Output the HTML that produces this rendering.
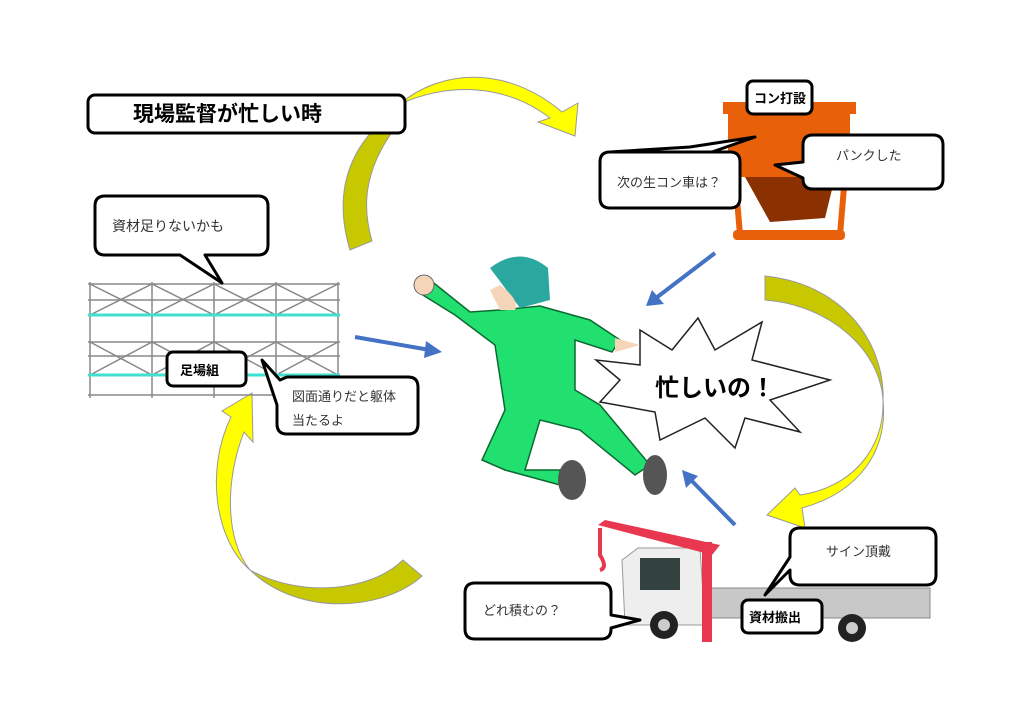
<!DOCTYPE html>
<html><head><meta charset="utf-8"><style>
html,body{margin:0;padding:0;background:#fff}
svg{display:block}
text{font-family:"Liberation Sans","Noto Sans CJK JP",sans-serif}
</style></head><body>
<svg width="1024" height="724" viewBox="0 0 1024 724" xmlns="http://www.w3.org/2000/svg">
<!-- yellow curved arrows -->
<g stroke="#999" stroke-width="1">
<path d="M350,250 C335,200 345,160 375,128 L395,128 C368,165 360,200 372,241 Z" fill="#c8c800"/>
<path d="M400,104 C440,70 505,64 562,112 L578,103 L575,136 L538,122 L550,118 C505,84 450,82 400,104 Z" fill="#ffff00"/>
<path d="M765,276 C850,285 885,350 883,400 C880,350 830,305 765,300 Z" fill="#c8c800"/>
<path d="M883,400 C885,450 850,488 800,495 L795,488 L767,515 L805,528 L802,508 C860,492 888,450 883,400 Z" fill="#ffff00"/>
<path d="M252,393 L222,411 L231,417 C205,470 215,540 250,570 C225,540 225,480 244,432 L253,442 Z" fill="#ffff00"/>
<path d="M250,570 C300,618 385,610 422,576 L403,560 C370,592 300,598 250,570 Z" fill="#c8c800"/>
</g>
<!-- blue arrows -->
<g stroke="#4472c4" stroke-width="4" fill="#4472c4">
<line x1="355" y1="337" x2="430" y2="350"/><polygon points="442,352 426,341 424,358" stroke="none"/>
<line x1="715" y1="253" x2="656" y2="298"/><polygon points="646,306 652,290 664,304" stroke="none"/>
<line x1="735" y1="525" x2="690" y2="479"/><polygon points="682,470 698,476 686,488" stroke="none"/>
</g>
<!-- scaffold -->
<g stroke="#888" stroke-width="1.5" fill="none">
<line x1="88" y1="284" x2="340" y2="284"/><line x1="88" y1="300" x2="340" y2="300"/>
<line x1="88" y1="342" x2="340" y2="342"/><line x1="88" y1="356" x2="340" y2="356"/>
<line x1="88" y1="395" x2="340" y2="395"/>
<line x1="90" y1="282" x2="90" y2="398"/><line x1="152" y1="282" x2="152" y2="398"/><line x1="214" y1="282" x2="214" y2="398"/><line x1="276" y1="282" x2="276" y2="398"/><line x1="338" y1="282" x2="338" y2="398"/>
<path d="M90,284 L152,315 L214,284 L276,315 L338,284 M90,315 L152,284 L214,315 L276,284 L338,315 M90,342 L152,375 L214,342 L276,375 L338,342 M90,375 L152,342 L214,375 L276,342 L338,375"/>
</g>
<line x1="88" y1="315" x2="340" y2="315" stroke="#40e0d0" stroke-width="3"/>
<line x1="88" y1="375" x2="340" y2="375" stroke="#40e0d0" stroke-width="3"/>
<!-- bucket -->
<g>
<rect x="723" y="102" width="133" height="12" fill="#e8600a"/>
<rect x="728" y="112" width="122" height="65" fill="#e8600a"/>
<polygon points="745,177 835,177 825,218 770,222" fill="#8b3000"/>
<path d="M735,175 L740,235 L840,235 L845,175" fill="none" stroke="#e8600a" stroke-width="6"/>
<rect x="733" y="230" width="112" height="10" rx="4" fill="#e8600a"/>
</g>
<!-- truck -->
<g>
<rect x="690" y="588" width="240" height="30" fill="#c8c8c8" stroke="#888"/>
<path d="M622,560 L638,548 L700,548 L705,625 L625,625 Z" fill="#eee" stroke="#999"/>
<rect x="640" y="558" width="40" height="32" fill="#33413f"/>
<circle cx="664" cy="625" r="14" fill="#222"/><circle cx="664" cy="625" r="6" fill="#ccc"/>
<circle cx="852" cy="628" r="14" fill="#222"/><circle cx="852" cy="628" r="6" fill="#ccc"/>
<polygon points="598,525 605,520 720,545 712,555" fill="#e8384f"/>
<rect x="702" y="542" width="10" height="100" fill="#e8384f"/>
<path d="M600,528 L600,555 Q608,568 600,570" stroke="#e8384f" stroke-width="4" fill="none"/>
</g>
<!-- starburst -->
<polygon points="640,330 672,350 698,318 715,350 762,322 752,360 830,380 770,400 800,432 745,418 735,448 705,418 660,440 655,412 600,402 620,380 596,360 640,365" fill="#fff" stroke="#222" stroke-width="1.5"/>
<text x="715" y="396" font-size="24" font-weight="bold" text-anchor="middle" fill="#000">忙しいの！</text>
<!-- person -->
<g fill="#22e070" stroke="#0a6a30" stroke-width="1.5">
<path d="M430,280 L470,312 L500,310 L540,306 L590,320 L620,340 L612,352 L575,340 L575,390 L600,405 L650,465 L635,475 L580,430 L540,420 L525,470 L560,470 L560,485 L505,470 L482,460 L505,410 L495,345 L455,315 L418,292 Z"/>
</g>
<path d="M490,268 Q520,245 548,268 L550,300 L520,308 Z" fill="#2aa8a0"/>
<path d="M500,285 Q520,300 515,310 L500,310 L490,290 Z" fill="#f5d5b8"/>
<circle cx="424" cy="285" r="10" fill="#f5d5b8" stroke="#666"/>
<polygon points="615,338 640,345 615,352" fill="#f5d5b8"/>
<ellipse cx="572" cy="480" rx="14" ry="20" fill="#555"/>
<ellipse cx="655" cy="475" rx="12" ry="20" fill="#555"/>
<!-- callouts -->
<g fill="#fff" stroke="#000" stroke-width="3" stroke-linejoin="round">
<rect x="88" y="95" width="317" height="38" rx="7"/>
<path d="M105,196 H258 Q268,196 268,206 V245 Q268,255 258,255 H205 L222,283 L180,255 H105 Q95,255 95,245 V206 Q95,196 105,196 Z"/>
<rect x="167" y="352" width="79" height="34" rx="6"/>
<path d="M287,377 H408 Q418,377 418,387 V424 Q418,434 408,434 H287 Q277,434 277,424 V405 L262,360 L280,380 Z"/>
<rect x="747" y="81" width="65" height="33" rx="6"/>
<path d="M610,152 H730 Q740,152 740,162 V198 Q740,208 730,208 H610 Q600,208 600,198 V162 Q600,152 610,152 L690,147 L755,137 L712,152 Z"/>
<path d="M813,135 H933 Q943,135 943,145 V179 Q943,189 933,189 H813 Q803,189 803,179 V178 L775,165 L803,162 V145 Q803,135 813,135 Z"/>
<path d="M800,528 H926 Q936,528 936,538 V575 Q936,585 926,585 H800 Q790,585 790,575 V570 L765,595 L790,557 V538 Q790,528 800,528 Z"/>
<rect x="742" y="600" width="80" height="33" rx="6"/>
<path d="M475,583 H601 Q611,583 611,593 V615 L640,620 L611,628 V629 Q611,639 601,639 H475 Q465,639 465,629 V593 Q465,583 475,583 Z"/>
</g>
<g fill="#000">
<text x="133" y="121" font-size="21" font-weight="bold">現場監督が忙しい時</text>
<text x="112" y="231" font-size="14" fill="#333">資材足りないかも</text>
<text x="180" y="375" font-size="13" font-weight="bold">足場組</text>
<text x="292" y="401" font-size="13" fill="#333">図面通りだと躯体</text>
<text x="292" y="425" font-size="13" fill="#333">当たるよ</text>
<text x="754" y="103" font-size="13" font-weight="bold">コン打設</text>
<text x="617" y="187" font-size="13" fill="#333">次の生コン車は？</text>
<text x="836" y="160" font-size="13" fill="#333">パンクした</text>
<text x="826" y="556" font-size="13" fill="#333">サイン頂戴</text>
<text x="749" y="622" font-size="13" font-weight="bold">資材搬出</text>
<text x="483" y="615" font-size="13" fill="#333">どれ積むの？</text>
</g>
</svg>
</body></html>
